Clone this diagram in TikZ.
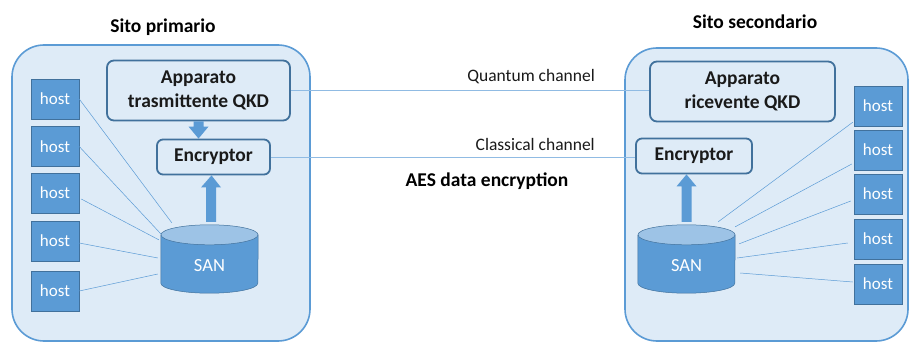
\documentclass[tikz,border=0pt]{standalone}
\usepackage{fontspec}
\setmainfont{Carlito}
\usetikzlibrary{calc}
\definecolor{siteback}{HTML}{DEEBF7}
\definecolor{siteline}{HTML}{5B9BD5}
\definecolor{boxline}{HTML}{41719C}
\definecolor{hostfill}{HTML}{5B9BD5}
\definecolor{santop}{HTML}{9DC3E6}
\definecolor{linkline}{HTML}{5B9BD5}
\definecolor{txt}{HTML}{1A1A1A}
\tikzset{
  sitebox/.style={draw=siteline, line width=1.6pt, fill=siteback, rounded corners=32pt},
  devbox/.style={draw=boxline, line width=1.8pt, fill=siteback, rounded corners=7pt,
    font=\fontsize{19.5}{23.5}\selectfont\bfseries, text=txt, align=center, inner sep=0pt},
  hostbox/.style={draw=boxline, line width=0.5pt, fill=hostfill, minimum width=48pt,
    minimum height=40pt, inner sep=0pt, text=white, font=\fontsize{17}{20}\selectfont},
  sanbox/.style={minimum width=97pt, minimum height=68pt, inner sep=0pt, text=white,
    font=\fontsize{18.5}{22}\selectfont},
  wire/.style={draw=linkline, line width=0.5pt},
  chan/.style={draw=santop!80!siteline, line width=0.9pt},
  title/.style={font=\fontsize{19.5}{23}\selectfont\bfseries, text=black},
  chanlabel/.style={font=\fontsize{17.5}{20}\selectfont, text=txt, inner sep=0pt},
  blockarrow/.style={fill=hostfill, draw=none}
}
% storage cylinder drawn over an (invisible) node
\newcommand\sancyl[1]{%
  \fill[hostfill] ($(#1.north west)+(0,10)$) -- ($(#1.south west)+(0,-10)$)
    arc[start angle=180, end angle=360, x radius=48.5pt, y radius=10pt]
    -- ($(#1.north east)+(0,10)$) -- cycle;
  \draw[boxline, line width=0.5pt] ($(#1.north west)+(0,10)$) -- ($(#1.south west)+(0,-10)$)
    arc[start angle=180, end angle=360, x radius=48.5pt, y radius=10pt]
    -- ($(#1.north east)+(0,10)$);
  \draw[boxline, line width=0.5pt, fill=santop] ($(#1.north)+(0,10)$)
    ellipse[x radius=48.5pt, y radius=10pt];
}
% thick block arrow from #1 to #2 (vertical)
\newcommand\blockarr[2]{%
  \fill[blockarrow] let \p1=(#1), \p2=(#2), \n1={\y2>\y1 ? 1 : -1} in
    (\x1-5pt,\y1) -- (\x1-5pt,{\y2-\n1*12pt}) -- (\x1-10pt,{\y2-\n1*12pt}) -- (\x2,\y2)
    -- (\x1+10pt,{\y2-\n1*12pt}) -- (\x1+5pt,{\y2-\n1*12pt}) -- (\x1+5pt,\y1) -- cycle;
}
\begin{document}
\begin{tikzpicture}[x=1pt, y=-1pt]
\useasboundingbox (0,0) rectangle (910,345);
\fill[white] (0,0) rectangle (910,345);

% sites
\draw[sitebox] (12,45) rectangle (310,341);
\draw[sitebox] (625,48) rectangle (908,341);
\node[title] (tL) at (163,27) {Sito primario};
\node[title] (tR) at (755,22) {Sito secondario};

% primary site devices
\node[devbox, minimum width=183pt, minimum height=60pt] (qkdL) at (198.5,90.5) {Apparato\\trasmittente QKD};
\node[devbox, minimum width=113pt, minimum height=35pt, rounded corners=6pt] (encL) at (213.5,157) {Encryptor};
\node[sanbox] (sanL) at (209.5,259) {};
\sancyl{sanL}
\node[sanbox] (sanLt) at (209.5,266) {SAN};

% secondary site devices
\node[devbox, minimum width=185pt, minimum height=60pt] (qkdR) at (742.5,91.5) {Apparato\\ricevente QKD};
\node[devbox, minimum width=116pt, minimum height=35pt, rounded corners=6pt] (encR) at (694,156) {Encryptor};
\node[sanbox] (sanR) at (686.5,259) {};
\sancyl{sanR}
\node[sanbox] (sanRt) at (686.5,266) {SAN};

% hosts
\foreach \i/\y in {1/99, 2/146.5, 3/193, 4/241, 5/291}
  \node[hostbox] (hL\i) at (55,\y) {host};
\foreach \i/\y in {1/106, 2/150, 3/194, 4/239, 5/284}
  \node[hostbox] (hR\i) at (878,\y) {host};

% host links, primary site
\draw[wire] (hL1.east) -- ($(sanL.north west)+(11,-2)$);
\draw[wire] (hL2.east) -- ($(sanL.north west)+(0,9)$);
\draw[wire] ($(hL3.east)+(2,6)$) -- ($(sanL.north west)+(-2,15)$);
\draw[wire] ($(hL4.east)+(0,2)$) -- ($(sanL.west)+(-3,-1)$);
\draw[wire] (hL5.east) -- ($(sanL.west)+(-3,15)$);

% host links, secondary site
\draw[wire] ($(hR1.south west)+(-1,-4)$) -- ($(sanR.north east)+(-17,-3)$);
\draw[wire] ($(hR2.west)+(-2,14)$) -- ($(sanR.north east)+(0,2)$);
\draw[wire] ($(hR3.west)+(-3,7)$) -- ($(sanR.north east)+(4,19)$);
\draw[wire] ($(hR4.west)+(-6,4)$) -- ($(sanR.east)+(2,-1)$);
\draw[wire] ($(hR5.west)+(-1,-2)$) -- ($(sanR.east)+(5,14)$);

% block arrows
\blockarr{qkdL.south}{encL.north -| qkdL.south}
\blockarr{$(sanL.north)+(1.5,-3)$}{$(encL.south)+(-2,0)$}
\blockarr{$(sanR.north)+(0,-3)$}{encR.south -| sanR.north}

% channels
\draw[chan] (qkdL.east) -- (qkdL.east -| qkdR.west);
\draw[chan] (encL.east) -- (encL.east -| encR.west);
\node[chanlabel, anchor=east] (lq) at (595,77) {Quantum channel};
\node[chanlabel, anchor=east] (lc) at (595,144) {Classical channel};
\node[title] (aes) at (487,181) {AES data encryption};
\end{tikzpicture}
\end{document}
